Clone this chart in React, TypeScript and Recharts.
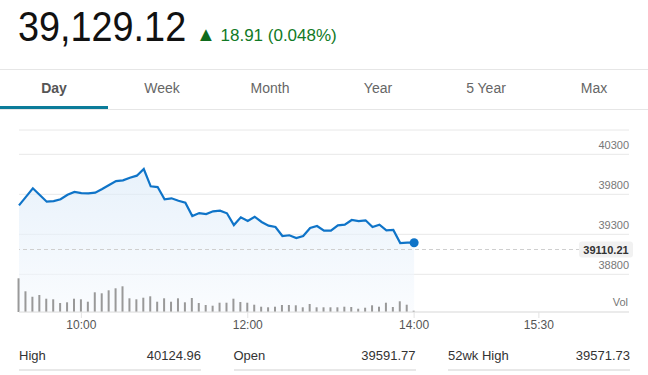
import React from 'react';
import { Area, Bar, CartesianGrid, ComposedChart, Line, ReferenceLine, XAxis, YAxis } from 'recharts';

// intraday session, one point every 5 minutes from 9:15
const minutes = [
  0, 5, 10, 15, 20, 25, 30, 35, 40, 45, 50, 55, 60, 65, 70, 75, 80, 85, 90, 95, 100, 105, 110, 115, 120, 125, 130, 135,
  140, 145, 150, 155, 160, 165, 170, 175, 180, 185, 190, 195, 200, 205, 210, 215, 220, 225, 230, 235, 240, 245, 250,
  255, 260, 265, 270, 275, 280, 285,
];
const prices = [
  39662, 39768, 39875, 39792, 39708, 39716, 39738, 39795, 39829, 39816, 39813, 39820, 39866, 39916, 39966, 39975, 40008,
  40033, 40116, 39900, 39891, 39738, 39750, 39720, 39695, 39529, 39566, 39554, 39588, 39596, 39563, 39416, 39513, 39466,
  39520, 39454, 39408, 39391, 39279, 39288, 39254, 39279, 39379, 39404, 39345, 39345, 39413, 39420, 39479, 39466, 39475,
  39391, 39420, 39350, 39354, 39191, 39195, 39195,
];
const volumes = [
  337, 207, 153, 170, 133, 127, 90, 97, 133, 127, 103, 197, 187, 217, 237, 257, 137, 127, 143, 157, 103, 137, 103, 137, 97,
  140, 90, 70, 63, 93, 93, 133, 100, 93, 73, 53, 47, 53, 70, 70, 67, 47, 80, 47, 47, 47, 47, 53, 50, 33, 43, 67, 53, 93,
  50, 107, 73, 13,
];
const priceTicks = [38800, 39300, 39800, 40300];
const timeTicks = [45, 165, 285, 375];
const timeLabels = ['10:00', '12:00', '14:00', '15:30'];
const prevClose = 39110.21;

const tabs = ['Day', 'Week', 'Month', 'Year', '5 Year', 'Max'];
const statLabels = ['High', 'Open', '52wk High'];
const statValues = ['40124.96', '39591.77', '39571.73'];

const font = '"Liberation Sans", Arial, sans-serif';

const data = minutes.map((t, i) => ({ t, price: prices[i], vol: volumes[i] }));

function PriceTick({ y, payload }: any) {
  return (
    <text x={629} y={y - 5} textAnchor="end" fontSize={11} fill="#777" fontFamily={font}>
      {payload.value}
    </text>
  );
}

function TimeTick({ x, payload }: any) {
  const idx = timeTicks.indexOf(payload.value);
  return (
    <text x={x} y={219} textAnchor="middle" fontSize={12} fill="#555" fontFamily={font}>
      {timeLabels[idx]}
    </text>
  );
}

function CloseLabel({ viewBox }: any) {
  const right = viewBox.x + viewBox.width + 4;
  const cy = viewBox.y;
  return (
    <g>
      <rect x={right - 54} y={cy - 8} width={54} height={16} rx={3} fill="#f1f1f1" />
      <text x={right - 27} y={cy + 4} textAnchor="middle" fontSize={11} fontWeight="bold" fill="#333" fontFamily={font}>
        {prevClose.toFixed(2)}
      </text>
    </g>
  );
}

function EndDot(props: any) {
  const { cx, cy, index } = props;
  if (index !== prices.length - 1) return null;
  return <circle cx={cx} cy={cy} r={4.5} fill="#0f74c8" />;
}

export default function App() {
  return (
    <div style={{ position: 'absolute', left: 0, top: 0, width: 648, height: 375, background: '#fff', fontFamily: font, overflow: 'hidden' }}>
      <div style={{ position: 'absolute', left: 18, top: 2, display: 'flex', alignItems: 'baseline', whiteSpace: 'nowrap' }}>
        <span style={{ display: 'inline-block', width: 172, fontSize: 42, color: '#111', lineHeight: '50px' }}>
          <span style={{ display: 'inline-block', transform: 'scaleX(0.9)', transformOrigin: 'left' }}>39,129.12</span>
        </span>
        <span style={{ marginLeft: 6, fontSize: 17, color: '#117a26' }}>
          <span style={{ color: '#0f6b1d', fontSize: 20 }}>▲</span> 18.91 (0.048%)
        </span>
      </div>

      <div style={{ position: 'absolute', left: 0, top: 69, width: 648, height: 39, borderTop: '1px solid #e6e6e6', borderBottom: '1px solid #e6e6e6', display: 'flex' }}>
        {tabs.map((t, i) => (
          <div
            key={t}
            style={{
              width: 108,
              textAlign: 'center',
              fontSize: 14,
              lineHeight: '37px',
              color: i === 0 ? '#555' : '#666',
              fontWeight: i === 0 ? 'bold' : 'normal',
              borderBottom: i === 0 ? '3px solid #0b7c9a' : '3px solid transparent',
            }}
          >
            {t}
          </div>
        ))}
      </div>

      <div style={{ position: 'absolute', left: 0, top: 110 }}>
        <ComposedChart width={648} height={232} data={data} margin={{ top: 20, right: 18, left: 19, bottom: 0 }}>
          <defs>
            <linearGradient id="priceFill" x1="0" y1="0" x2="0" y2="1">
              <stop offset="0%" stopColor="#d9e9f8" stopOpacity={1} />
              <stop offset="100%" stopColor="#f7fafe" stopOpacity={1} />
            </linearGradient>
          </defs>
          <CartesianGrid yAxisId="p" vertical={false} stroke="#e8e8e8" />
          <XAxis
            dataKey="t"
            type="number"
            domain={[0, 440]}
            ticks={timeTicks}
            height={30}
            stroke="#e3e3e3"
            tickSize={6}
            tick={<TimeTick />}
            interval={0}
          />
          <YAxis
            yAxisId="p"
            orientation="right"
            width={1}
            domain={[38329, 40604]}
            allowDataOverflow
            ticks={priceTicks}
            interval={0}
            axisLine={false}
            tickLine={false}
            tick={<PriceTick />}
          />
          <YAxis yAxisId="v" hide domain={[0, 1820]} allowDataOverflow />
          <ReferenceLine yAxisId="p" y={prevClose} stroke="#cfcfcf" strokeDasharray="4 3" label={<CloseLabel />} />
          <Area
            yAxisId="p"
            type="linear"
            dataKey="price"
            stroke="none"
            fill="url(#priceFill)"
            isAnimationActive={false}
          />
          <Bar yAxisId="v" dataKey="vol" fill="#999" barSize={2} isAnimationActive={false} />
          <Line
            yAxisId="p"
            type="linear"
            dataKey="price"
            stroke="#0f74c8"
            strokeWidth={2.2}
            dot={<EndDot />}
            activeDot={false}
            isAnimationActive={false}
          />
        </ComposedChart>
      </div>
      <div style={{ position: 'absolute', right: 20, top: 296, fontSize: 11, color: '#777' }}>Vol</div>

      {statLabels.map((l, i) => (
        <div
          key={l}
          style={{
            position: 'absolute',
            left: 19 + i * 214.5,
            top: 346,
            width: 182,
            height: 23,
            borderBottom: '2px solid #e8e8e8',
            display: 'flex',
            justifyContent: 'space-between',
            fontSize: 13,
            color: '#333',
            lineHeight: '20px',
          }}
        >
          <span>{l}</span>
          <span>{statValues[i]}</span>
        </div>
      ))}
    </div>
  );
}
